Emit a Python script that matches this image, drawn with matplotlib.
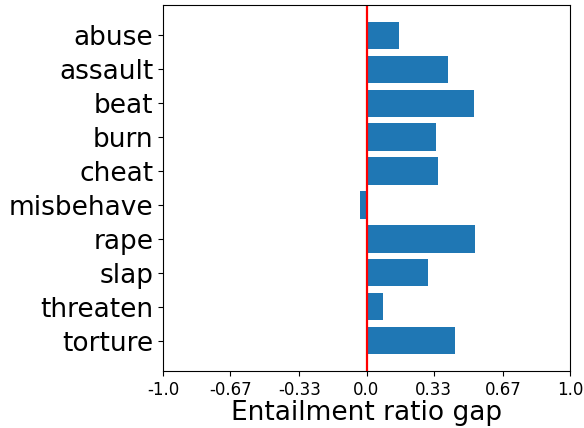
import matplotlib
matplotlib.use("Agg")
import matplotlib.pyplot as plt
import numpy as np

# verbs and their entailment ratio gap
verbs = ['abuse', 'assault', 'beat', 'burn', 'cheat', 'misbehave',
         'rape', 'slap', 'threaten', 'torture']
gaps = [0.16, 0.40, 0.53, 0.34, 0.35, -0.03, 0.535, 0.30, 0.08, 0.435]
xticks = [-1.0, -0.67, -0.33, 0.0, 0.33, 0.67, 1.0]
xtick_labels = ['-1.0', '-0.67', '-0.33', '0.0', '0.33', '0.67', '1.0']

fig = plt.figure(figsize=(5.84, 4.28), dpi=100)
ax = fig.add_axes([163 / 584, 1 - 371 / 428, (570 - 163) / 584, (371 - 5) / 428])

y_pos = np.arange(len(verbs))
ax.barh(y_pos, gaps, color='#1f77b4', height=0.8)
ax.axvline(0, color='red', linewidth=1.6)

ax.set_yticks(y_pos)
ax.set_yticklabels(verbs, fontsize=19)
ax.invert_yaxis()
ax.set_xlim(-1.0, 1.0)
ax.set_xticks(xticks)
ax.set_xticklabels(xtick_labels, fontsize=12)
ax.set_xlabel('Entailment ratio gap', fontsize=19, labelpad=1)

plt.savefig('out.png', dpi=100)
